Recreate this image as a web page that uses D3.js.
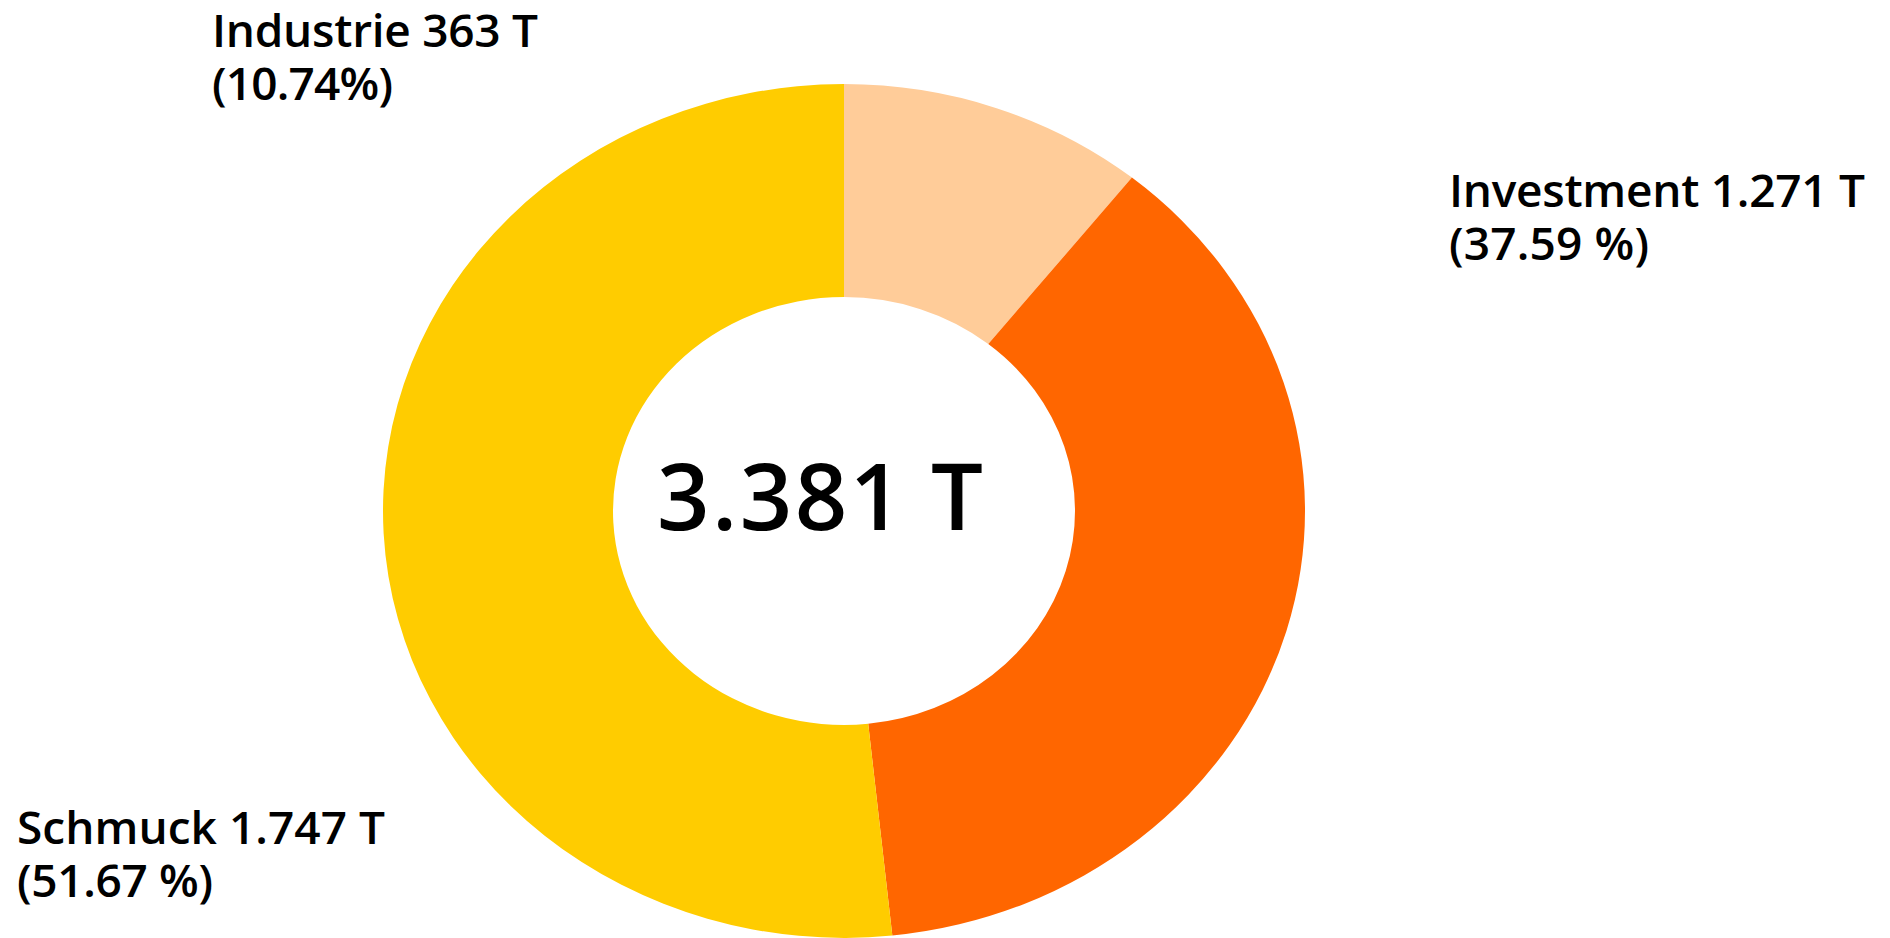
<!DOCTYPE html>
<html><head><meta charset="utf-8">
<script src="https://cdn.jsdelivr.net/npm/d3@7"></script>
<style>html,body{margin:0;padding:0;background:#fff;overflow:hidden}</style>
</head><body>
<svg id="chart" width="1890" height="938"></svg>
<script>
const categories = ["Industrie", "Investment", "Schmuck"];
const values = [363, 1271, 1747];
const valueLabels = ["363 T", "1.271 T", "1.747 T"];
const percentLabels = ["(10.74%)", "(37.59 %)", "(51.67 %)"];
const colors = ["#FFCC99", "#FF6600", "#FFCC00"];
const totalLabel = "3.381 T";

const svg = d3.select("#chart");
const cx = 844, cy = 511, rOuter = 461, rInner = 231, sy = 0.926;
const font = "'Open Sans', 'DejaVu Sans', sans-serif";

const pie = d3.pie().sort(null).value(d => d.v);
const data = categories.map((c, i) => ({c, v: values[i], i}));
const arc = d3.arc().innerRadius(rInner).outerRadius(rOuter);

const g = svg.append("g").attr("transform", `translate(${cx},${cy}) scale(1,${sy})`);
g.selectAll("path").data(pie(data)).join("path")
  .attr("d", arc)
  .attr("fill", d => colors[d.data.i]);

svg.append("text").attr("x", 657).attr("y", 530)
  .attr("font-family", font).attr("font-size", 92).attr("font-weight", 600)
  .attr("textLength", 326).attr("lengthAdjust", "spacing")
  .attr("fill", "#000").text(totalLabel);

const labelPos = [
  {x: 212, y: 47, w1: 326, w2: 181},
  {x: 1449, y: 207, w1: 416, w2: 200},
  {x: 17, y: 844, w1: 368, w2: 196}
];
const lineH = 53;
data.forEach((d, i) => {
  const p = labelPos[i];
  svg.append("text").attr("font-family", font).attr("font-size", 46).attr("font-weight", 600)
    .attr("fill", "#000").attr("x", p.x).attr("y", p.y)
    .attr("textLength", p.w1).attr("lengthAdjust", "spacing")
    .text(categories[i] + " " + valueLabels[i]);
  svg.append("text").attr("font-family", font).attr("font-size", 46).attr("font-weight", 600)
    .attr("fill", "#000").attr("x", p.x).attr("y", p.y + lineH)
    .attr("textLength", p.w2).attr("lengthAdjust", "spacing")
    .text(percentLabels[i]);
});
</script>
</body></html>
